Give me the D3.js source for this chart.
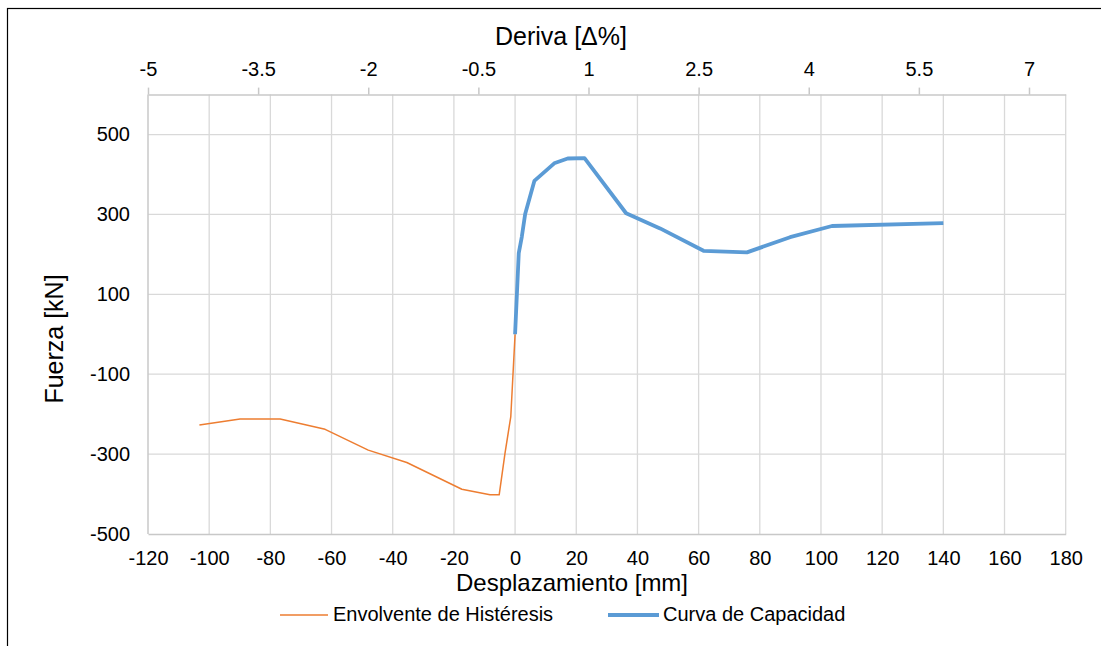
<!DOCTYPE html>
<html>
<head>
<meta charset="utf-8">
<script src="https://cdn.jsdelivr.net/npm/d3@7/dist/d3.min.js"></script>
<style>
  html, body { margin: 0; padding: 0; background: #fff; }
  svg { display: block; font-family: "Liberation Sans", Arial, sans-serif; }
</style>
</head>
<body>
<svg id="chart" width="1101" height="646"></svg>
<script>
// ---- data ----
const envolventeX = [-103.2, -89.9, -76.8, -62.1, -48.0, -35.4, -17.4, -8.2, -5.2, -3.3, -1.4, 0];
const envolventeY = [-227, -212, -212, -238, -290, -321, -388, -402, -402, -298, -206, 0];
const capacidadX = [0, 1.2, 2.2, 3.3, 6.3, 12.8, 17.2, 22.7, 36.3, 47.4, 61.6, 75.8, 89.9, 103.6, 140.0];
const capacidadY = [0, 203, 244, 301, 384, 428, 440, 441, 303, 265, 209, 205, 243, 271, 278];
const xTicks = [-120, -100, -80, -60, -40, -20, 0, 20, 40, 60, 80, 100, 120, 140, 160, 180];
const yTicks = [-500, -300, -100, 100, 300, 500];
const topTicks = [-5, -3.5, -2, -0.5, 1, 2.5, 4, 5.5, 7];
const seriesNames = ["Envolvente de Histéresis", "Curva de Capacidad"];
const seriesColors = ["#ED7D31", "#5B9BD5"];

const svg = d3.select("#chart");
const L = 148, R = 1065.7, T = 94.6, B = 534;

const x = d3.scaleLinear().domain([-120, 180]).range([L, R]);
const y = d3.scaleLinear().domain([-500, 600]).range([B, T]);
const xTop = d3.scaleLinear().domain([-5, 7.5]).range([L, R]);

// outer border
svg.append("rect").attr("x", 7.5).attr("y", 8.5).attr("width", 1200).attr("height", 800)
  .attr("fill", "none").attr("stroke", "#000").attr("stroke-width", 1.2);

// gridlines
const grid = svg.append("g");
grid.selectAll("line.v").data(xTicks.filter(d => d > -120)).enter().append("line")
  .attr("x1", d => x(d)).attr("x2", d => x(d)).attr("y1", T).attr("y2", B)
  .attr("stroke", "#d9d9d9").attr("stroke-width", 1.3);
grid.selectAll("line.h").data(yTicks.filter(d => d > -500)).enter().append("line")
  .attr("x1", L).attr("x2", R).attr("y1", d => y(d)).attr("y2", d => y(d))
  .attr("stroke", "#d9d9d9").attr("stroke-width", 1.3);

const fontSize = 20;
const fmt = d => String(d);
function styleAxis(g) {
  g.selectAll("path.domain").attr("stroke", "#c8c8c8").attr("stroke-width", 1.5);
  g.selectAll(".tick line").attr("stroke", "#c8c8c8").attr("stroke-width", 1.5);
  g.selectAll("text").attr("fill", "#000").style("font-size", fontSize + "px")
    .style("font-family", '"Liberation Sans", Arial, sans-serif');
}

// bottom axis
const gB = svg.append("g").attr("transform", `translate(0,${B})`)
  .call(d3.axisBottom(x).tickValues(xTicks).tickSize(0).tickSizeOuter(0).tickPadding(16.3).tickFormat(fmt));
styleAxis(gB);

// left axis
const gL = svg.append("g").attr("transform", `translate(${L},0)`)
  .call(d3.axisLeft(y).tickValues(yTicks).tickSize(0).tickSizeOuter(0).tickPadding(18).tickFormat(fmt));
styleAxis(gL);
gL.select("path.domain").attr("d", `M0,${T}V${B}`);

// top axis
const gT = svg.append("g").attr("transform", `translate(0,${T})`)
  .call(d3.axisTop(xTop).tickValues(topTicks).tickSizeInner(7).tickSizeOuter(0).tickPadding(12).tickFormat(fmt));
styleAxis(gT);

// titles
svg.append("text").attr("x", 561).attr("y", 45).attr("text-anchor", "middle")
  .style("font-size", "25px").text("Deriva [Δ%]");
svg.append("text").attr("x", 572).attr("y", 591).attr("text-anchor", "middle")
  .style("font-size", "24px").text("Desplazamiento [mm]");
svg.append("text").attr("transform", "translate(63,339) rotate(-90)").attr("text-anchor", "middle")
  .style("font-size", "25px").text("Fuerza [kN]");

// lines
const line = d3.line().x(d => x(d[0])).y(d => y(d[1]));
const env = envolventeX.map((v, i) => [v, envolventeY[i]]);
const cap = capacidadX.map((v, i) => [v, capacidadY[i]]);
svg.append("path").datum(env).attr("d", line).attr("fill", "none")
  .attr("stroke", seriesColors[0]).attr("stroke-width", 1.5).attr("stroke-linejoin", "round");
svg.append("path").datum(cap).attr("d", line).attr("fill", "none")
  .attr("stroke", seriesColors[1]).attr("stroke-width", 3.8).attr("stroke-linejoin", "round");

// legend
const legendItems = [
  { x1: 280, x2: 328, tx: 333 },
  { x1: 608, x2: 659, tx: 663 }
];
legendItems.forEach((it, i) => {
  svg.append("line").attr("x1", it.x1).attr("x2", it.x2).attr("y1", 615).attr("y2", 615)
    .attr("stroke", seriesColors[i]).attr("stroke-width", i === 0 ? 1.5 : 3.8);
  svg.append("text").attr("x", it.tx).attr("y", 621).style("font-size", "20px").text(seriesNames[i]);
});
</script>
</body>
</html>
